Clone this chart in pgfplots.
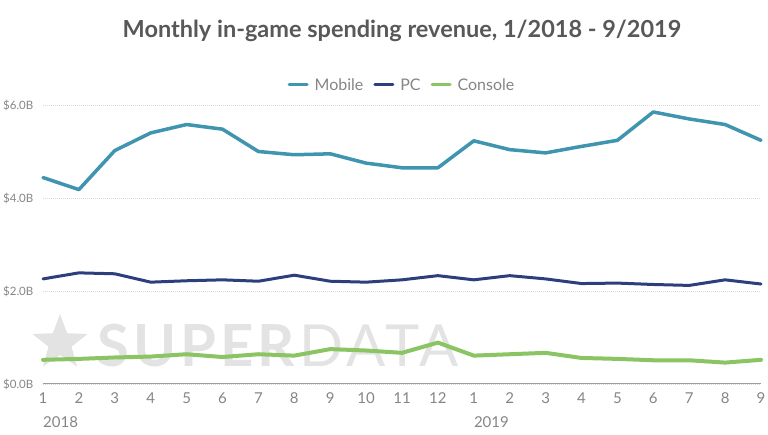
\documentclass[border=0pt]{standalone}
\usepackage{fontspec}
\setmainfont{Lato}
\usepackage{pgfplots}
\usepackage{pgfplotstable}
\pgfplotsset{compat=1.18}
\usetikzlibrary{shapes.geometric}
\definecolor{mobile}{HTML}{3F94AF}
\definecolor{pc}{HTML}{2C3E7B}
\definecolor{console}{HTML}{8BC462}
\definecolor{titlegray}{HTML}{585858}
\definecolor{tickgray}{HTML}{858585}
\definecolor{wm}{HTML}{E3E3E3}
\definecolor{gridgray}{HTML}{DADADA}

\pgfplotstableread{
x mobile pc console
1 4.44 2.26 0.52
2 4.18 2.39 0.54
3 5.02 2.37 0.57
4 5.40 2.19 0.59
5 5.58 2.22 0.64
6 5.48 2.24 0.58
7 5.00 2.21 0.64
8 4.93 2.34 0.61
9 4.95 2.21 0.75
10 4.75 2.19 0.72
11 4.65 2.24 0.67
12 4.65 2.33 0.89
13 5.23 2.24 0.61
14 5.04 2.33 0.64
15 4.97 2.26 0.67
16 5.11 2.16 0.56
17 5.24 2.17 0.54
18 5.85 2.14 0.51
19 5.70 2.12 0.51
20 5.58 2.24 0.46
21 5.24 2.15 0.52
}\datatable

\begin{document}
\begin{tikzpicture}[x=1pt,y=1pt]
\useasboundingbox (0,0) rectangle (768,435);
% watermark
\node[star, star points=5, star point ratio=2.4, fill=wm, minimum size=58pt, inner sep=0] at (60,92) {};
\node[anchor=base west, text=wm, inner sep=0] at (97,68) {\fontsize{58}{58}\selectfont\addfontfeatures{LetterSpace=7}\textbf{SUPER}DATA};
% title
\node[text=titlegray, font=\bfseries\fontsize{23.5}{28}\selectfont] at (402,404) {Monthly in-game spending revenue, 1/2018 - 9/2019};
\begin{axis}[
  at={(43pt,51pt)}, anchor=south west,
  scale only axis, width=718pt, height=279pt,
  xmin=1, xmax=21, ymin=0, ymax=6,
  axis x line=bottom, axis y line=left,
  x axis line style={-, draw=tickgray!80, line width=1pt},
  y axis line style={draw=none},
  tick style={draw=none},
  ymajorgrids, grid style={gridgray, line width=0.8pt, dash pattern=on 1pt off 1pt},
  ytick={0,2,4,6},
  yticklabels={\$0.0B,\$2.0B,\$4.0B,\$6.0B},
  xtick={1,...,21},
  xticklabels={1,2,3,4,5,6,7,8,9,10,11,12,1,2,3,4,5,6,7,8,9},
  x tick label style={font=\fontsize{15}{15}\selectfont, text=tickgray, yshift=-3pt},
  y tick label style={font=\fontsize{11.5}{11.5}\selectfont, text=tickgray, xshift=-4pt},
  /pgf/number format/assume math mode=true,
  clip=false,
  legend style={at={(0.5,1)}, anchor=center, yshift=20pt, draw=none, fill=none,
    font=\fontsize{16}{16}\selectfont, text=tickgray,
    /tikz/every odd column/.append style={column sep=4pt},
    /tikz/every even column/.append style={column sep=8pt}},
  legend columns=3,
  legend image code/.code={\draw[#1, line width=3pt] (0pt,0pt) -- (18pt,0pt);},
  every axis plot/.append style={line join=round, line cap=round},
]
\addplot[mobile, line width=3.5pt] table[x=x, y=mobile] {\datatable};
\addlegendentry{Mobile}
\addplot[pc, line width=3pt] table[x=x, y=pc] {\datatable};
\addlegendentry{PC}
\addplot[console, line width=4pt] table[x=x, y=console] {\datatable};
\addlegendentry{Console}
\node[anchor=base west, inner sep=0, text=tickgray, font=\fontsize{15}{15}\selectfont] at (axis cs:1,0) [yshift=-44pt] {2018};
\node[anchor=base west, inner sep=0, text=tickgray, font=\fontsize{15}{15}\selectfont] at (axis cs:13,0) [yshift=-44pt] {2019};
\end{axis}
\end{tikzpicture}
\end{document}
